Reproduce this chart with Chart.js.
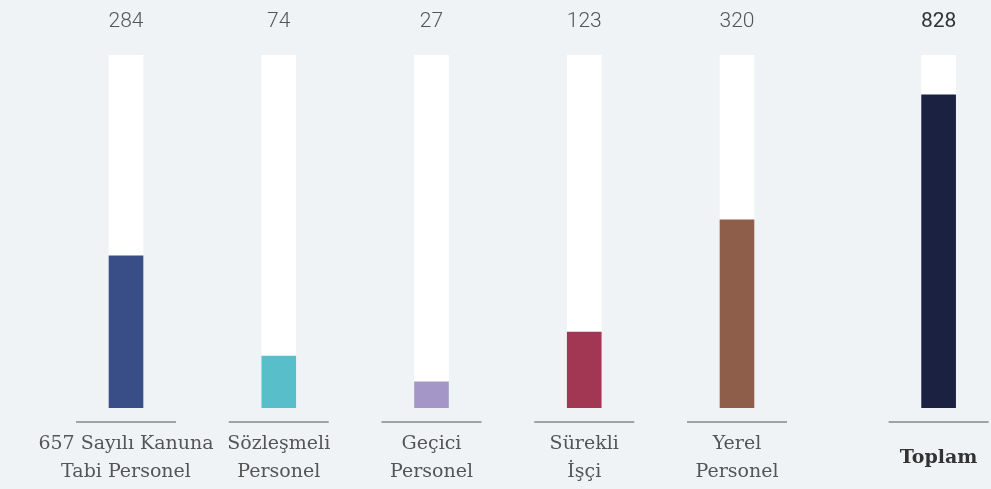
<!DOCTYPE html>
<html lang="tr">
<head>
<meta charset="utf-8">
<script src="https://cdn.jsdelivr.net/npm/chart.js@4.4.1/dist/chart.umd.min.js"></script>
<style>
  html, body { margin: 0; padding: 0; background: #eff3f6; overflow: hidden; }
  #staffChart { display: block; }
</style>
</head>
<body>
<canvas id="staffChart" width="991" height="489"></canvas>
<script>
const categories = ['657 Sayılı Kanuna\nTabi Personel', 'Sözleşmeli\nPersonel', 'Geçici\nPersonel', 'Sürekli\nİşçi', 'Yerel\nPersonel', 'Toplam'];
const counts = [284, 74, 27, 123, 320, 828];
// doluluk oranı (%)
const fillPercent = [43.1, 14.7, 7.4, 21.5, 53.3, 88.7];
const barColors = ['#394e87', '#58bfca', '#a497c8', '#a23753', '#8e5e4a', '#1b2140'];

const last = categories.length - 1;
// Toplam sütunu diğerlerinden biraz ayrık duruyor
const xPos = categories.map((c, i) => i === last ? i + 0.32 : i);

const setTicks = scale => { scale.ticks = xPos.map(v => ({ value: v })); };
const fixHeight = h => scale => {
  scale.height = h;
  scale.paddingLeft = 0;
  scale.paddingRight = 0;
};

const underlines = {
  id: 'underlines',
  beforeDatasetsDraw(chart) {
    const { ctx, chartArea, scales } = chart;
    ctx.save();
    ctx.strokeStyle = '#85888b';
    ctx.lineWidth = 1.6;
    xPos.forEach(v => {
      const px = scales.x.getPixelForValue(v);
      ctx.beginPath();
      ctx.moveTo(px - 50, chartArea.bottom + 14);
      ctx.lineTo(px + 50, chartArea.bottom + 14);
      ctx.stroke();
    });
    ctx.restore();
  }
};

const staffChart = new Chart(document.getElementById('staffChart'), {
  type: 'bar',
  data: {
    datasets: [{
      data: xPos.map((x, i) => ({ x: x, y: fillPercent[i] })),
      backgroundColor: barColors,
      barThickness: 34,
      grouped: false,
      order: 0
    }, {
      data: xPos.map(x => ({ x: x, y: 100 })),
      backgroundColor: '#ffffff',
      barThickness: 34,
      grouped: false,
      order: 1
    }]
  },
  options: {
    responsive: false,
    animation: false,
    layout: { padding: 0 },
    plugins: { legend: { display: false }, tooltip: { enabled: false } },
    scales: {
      x: {
        type: 'linear',
        position: 'bottom',
        offset: false,
        min: -0.825,
        max: 5.663,
        grid: { display: false, drawTicks: false },
        border: { display: false },
        afterBuildTicks: setTicks,
        afterFit: fixHeight(81),
        ticks: {
          autoSkip: false,
          maxRotation: 0,
          minRotation: 0,
          padding: 36,
          crossAlign: 'center',
          callback: (v, i) => categories[i].split('\n'),
          color: c => c.index === last ? '#333333' : '#555555',
          font: c => ({ family: 'DejaVu Serif', size: 19, lineHeight: 1.5, weight: c.index === last ? 'bold' : 'normal' })
        }
      },
      xTop: {
        type: 'linear',
        position: 'top',
        offset: false,
        min: -0.825,
        max: 5.663,
        grid: { display: false, drawTicks: false },
        border: { display: false },
        afterBuildTicks: setTicks,
        afterFit: fixHeight(55),
        ticks: {
          autoSkip: false,
          maxRotation: 0,
          minRotation: 0,
          padding: 21,
          callback: (v, i) => String(counts[i]),
          color: c => c.index === last ? '#333333' : '#555555',
          font: c => ({ family: 'Roboto', size: 21, lineHeight: 1.2, weight: c.index === last ? '400' : '300' })
        }
      },
      y: {
        display: false,
        min: 0,
        max: 100
      }
    }
  },
  plugins: [underlines]
});
</script>
</body>
</html>
